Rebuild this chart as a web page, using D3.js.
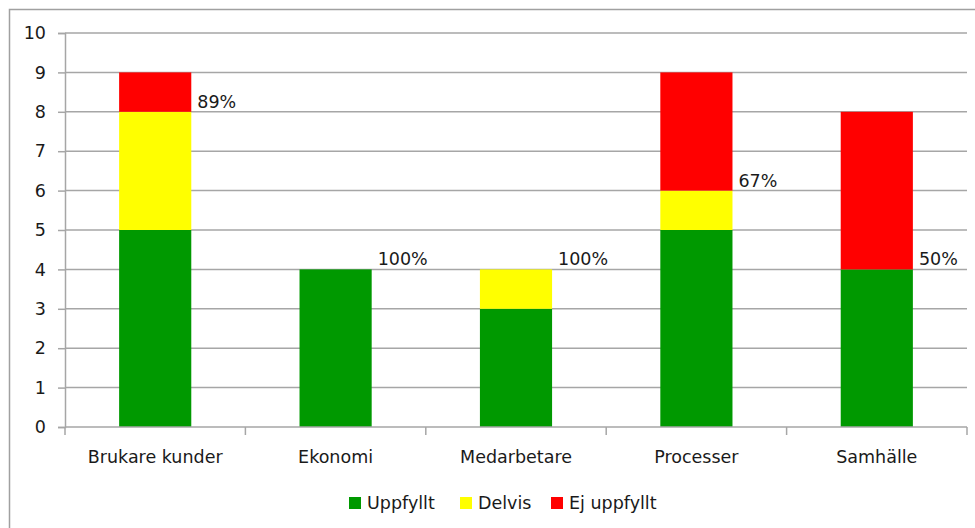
<!DOCTYPE html>
<html>
<head>
<meta charset="utf-8">
<script src="https://cdn.jsdelivr.net/npm/d3@7"></script>
<style>
  html, body { margin: 0; padding: 0; background: #fff; }
  svg { display: block; }
  text { font-family: "DejaVu Sans", Verdana, sans-serif; fill: #1a1a1a; }
</style>
</head>
<body>
<svg id="chart" width="975" height="528"></svg>
<script>
// Goal fulfilment per perspective (number of goals)
const categories = ["Brukare kunder", "Ekonomi", "Medarbetare", "Processer", "Samhälle"];
const uppfyllt   = [5, 4, 3, 5, 4];
const delvis     = [3, 0, 1, 1, 0];
const ejUppfyllt = [1, 0, 0, 3, 4];
const seriesNames  = ["Uppfyllt", "Delvis", "Ej uppfyllt"];
const seriesColors = ["#009900", "#ffff00", "#ff0000"];
const yTicks = [0, 1, 2, 3, 4, 5, 6, 7, 8, 9, 10];

const rows = categories.map((c, i) => ({
  cat: c,
  "Uppfyllt": uppfyllt[i],
  "Delvis": delvis[i],
  "Ej uppfyllt": ejUppfyllt[i]
}));

const svg = d3.select("#chart");
const gridColor = "#a6a6a6";
const fontSize = 17.5;

// chart frame
svg.append("rect")
  .attr("x", 9.5).attr("y", 9.5)
  .attr("width", 975).attr("height", 540)
  .attr("fill", "none").attr("stroke", "#a0a0a0").attr("stroke-width", 1.5);

const plotLeft = 65, plotRight = 967, plotTop = 33, plotBottom = 427;

const x = d3.scaleBand().domain(categories).range([plotLeft, plotRight])
  .paddingInner(0.6).paddingOuter(0.3);
const y = d3.scaleLinear().domain([0, 10]).range([plotBottom, plotTop]);

// horizontal gridlines
svg.append("g").selectAll("line").data(yTicks.filter(t => t > 0)).join("line")
  .attr("x1", plotLeft).attr("x2", plotRight)
  .attr("y1", d => y(d)).attr("y2", d => y(d))
  .attr("stroke", gridColor).attr("stroke-width", 1.5);

// y axis
const yAxis = svg.append("g")
  .attr("transform", `translate(${plotLeft},0)`)
  .call(d3.axisLeft(y).tickValues(yTicks).tickSize(7).tickPadding(12).tickFormat(d3.format("d")));
yAxis.select(".domain").attr("stroke", gridColor).attr("stroke-width", 1.5);
yAxis.selectAll(".tick line").attr("stroke", gridColor).attr("stroke-width", 1.5);
yAxis.selectAll(".tick text").attr("font-size", fontSize).attr("fill", "#1a1a1a")
  .attr("font-family", "DejaVu Sans, Verdana, sans-serif");

// stacked bars
const stack = d3.stack().keys(seriesNames)(rows);
const color = d3.scaleOrdinal().domain(seriesNames).range(seriesColors);

svg.append("g").selectAll("g").data(stack).join("g")
  .attr("fill", d => color(d.key))
  .selectAll("rect").data(d => d).join("rect")
  .attr("x", d => x(d.data.cat))
  .attr("width", x.bandwidth())
  .attr("y", d => y(d[1]))
  .attr("height", d => y(d[0]) - y(d[1]));

// x axis with ticks at category boundaries
const step = x.step();
const boundaries = d3.range(categories.length + 1).map(i => plotLeft + i * step);
const xg = svg.append("g");
xg.append("line").attr("x1", plotLeft).attr("x2", plotRight)
  .attr("y1", plotBottom).attr("y2", plotBottom)
  .attr("stroke", gridColor).attr("stroke-width", 1.5);
xg.selectAll("line.tk").data(boundaries).join("line").attr("class", "tk")
  .attr("x1", d => d).attr("x2", d => d)
  .attr("y1", plotBottom).attr("y2", plotBottom + 8)
  .attr("stroke", gridColor).attr("stroke-width", 1.5);
xg.selectAll("text").data(categories).join("text")
  .attr("x", d => x(d) + x.bandwidth() / 2)
  .attr("y", 463)
  .attr("text-anchor", "middle")
  .attr("font-size", fontSize)
  .text(d => d);

// share of goals fulfilled or partly fulfilled, placed beside each bar
svg.append("g").selectAll("text").data(rows).join("text")
  .attr("x", d => x(d.cat) + x.bandwidth() + 6)
  .attr("y", d => y(d["Uppfyllt"] + d["Delvis"]) - 4)
  .attr("font-size", fontSize)
  .text(d => {
    const total = d["Uppfyllt"] + d["Delvis"] + d["Ej uppfyllt"];
    return Math.round(100 * (d["Uppfyllt"] + d["Delvis"]) / total) + "%";
  });

// legend
const legendX = [349, 460, 551];
const lg = svg.append("g").selectAll("g").data(seriesNames).join("g")
  .attr("transform", (d, i) => `translate(${legendX[i]},497)`);
lg.append("rect").attr("width", 12).attr("height", 12).attr("fill", d => color(d));
lg.append("text").attr("x", 18).attr("y", 12).attr("font-size", fontSize).text(d => d);
</script>
</body>
</html>
